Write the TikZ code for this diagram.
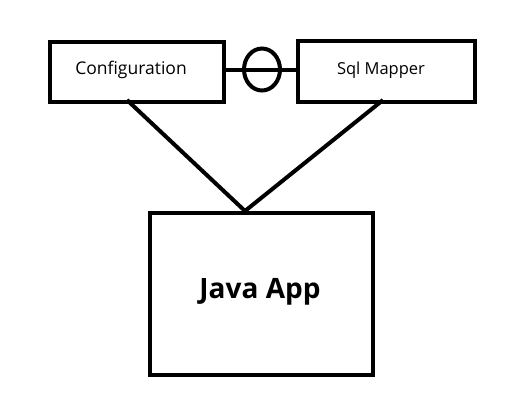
\documentclass[tikz,border=0pt]{standalone}
\usepackage{fontspec}
\setmainfont{Open Sans}
\usetikzlibrary{shapes.geometric}
\begin{document}
\begin{tikzpicture}[x=1pt,y=-1pt,
  box/.style={draw,line width=4pt,inner sep=0pt,anchor=north west},
  conn/.style={line width=4pt}]
\useasboundingbox (0,0) rectangle (524,407);
\node[box,minimum width=174pt,minimum height=60pt] (cfg) at (48,40) {};
\node[font=\fontsize{17.5}{20}\selectfont] (cfgt) at (131,70) {Configuration};
\node[box,minimum width=177pt,minimum height=61pt] (sql) at (296,39) {};
\node[font=\fontsize{16.5}{20}\selectfont] (sqlt) at (381,70) {Sql Mapper};
\node[box,minimum width=223pt,minimum height=162pt] (app) at (148,211) {};
\node[font=\fontsize{28}{32}\selectfont\bfseries] (appt) at (260,292) {Java App};
\coordinate (c1) at (127,100);
\coordinate (c2) at (383,100);
\coordinate (top) at (245,211);
\draw[conn] (c1) -- (top) -- (c2);
\coordinate (dot) at (297,70);
\draw[conn,line cap=round] (cfg.east |- dot) -- (dot);
\node[draw,line width=4pt,ellipse,minimum width=36pt,minimum height=42pt,inner sep=0pt] (ring) at (262,69.5) {};
\end{tikzpicture}
\end{document}
